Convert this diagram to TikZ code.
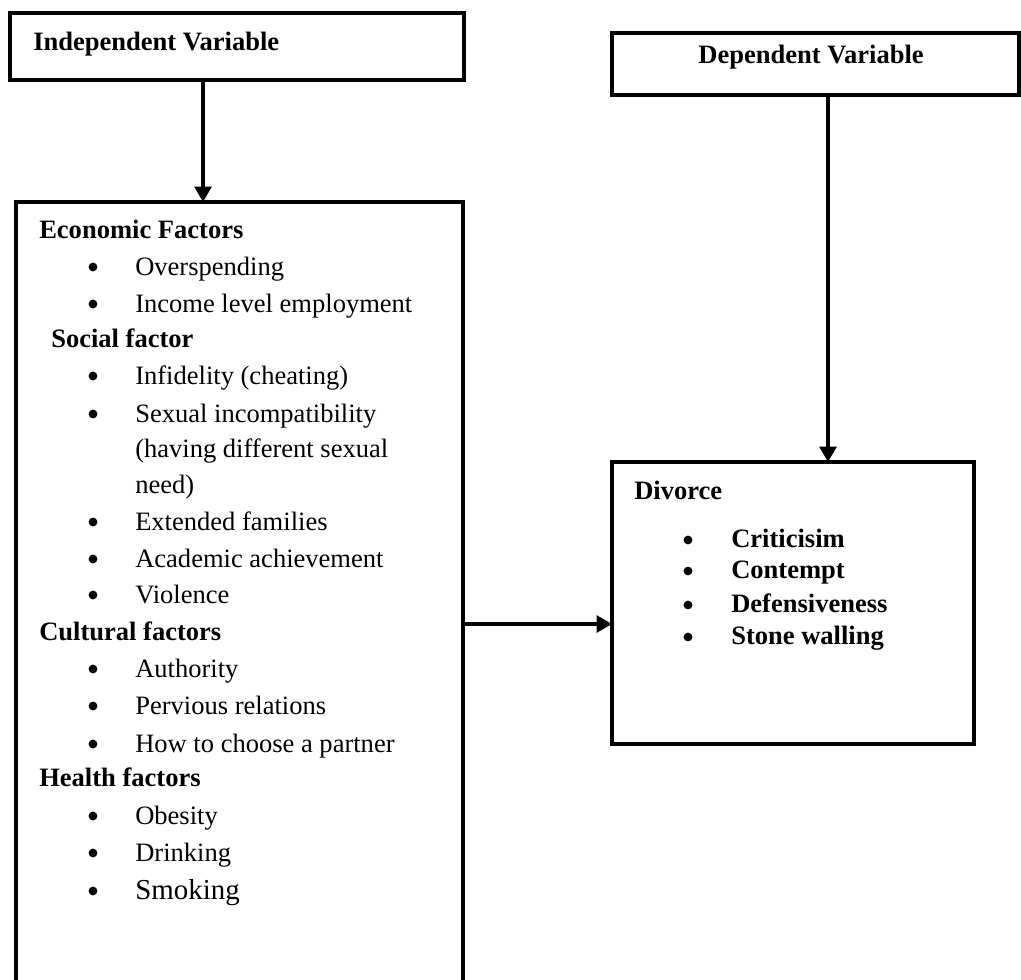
\documentclass[tikz,border=0pt]{standalone}
\usepackage{fontspec}
\setmainfont{Liberation Serif}
\usetikzlibrary{arrows.meta,fit}
\begin{document}
\begin{tikzpicture}[x=0.75pt,y=-0.75pt,
  box/.style={draw, line width=3pt, inner sep=0pt, outer sep=0pt},
  arr/.style={line width=2.7pt, -{Triangle[length=11.5pt,width=12.5pt]}},
  txt/.style={anchor=base west, inner sep=0pt, font=\fontsize{19.9}{24}\selectfont},
  btxt/.style={anchor=base west, inner sep=0pt, font=\fontsize{19.9}{24}\selectfont\bfseries},
  bul/.style={circle, fill=black, inner sep=0pt, minimum size=6.6pt}]
\useasboundingbox (0,0) rectangle (1021,979);

% boxes
\node[box, fit={(10,13)(464,80)}] (indep) {};
\node[box, fit={(612,33)(1019,95)}] (dep) {};
\node[box, fit={(16,202)(463,1010)}] (factors) {};
\node[box, fit={(612,462)(974,744)}] (divorce) {};

% connector coordinates
\coordinate (c1) at (203,0);
\coordinate (c2) at (828,0);
\coordinate (c3) at (0,624);

% connectors
\draw[arr] (c1 |- indep.south) -- (c1 |- factors.north);
\draw[arr] (c2 |- dep.south) -- (c2 |- divorce.north);
\draw[arr] (factors.east |- c3) -- (divorce.west |- c3);

% titles
\node[btxt] (indepT) at (33,50) {Independent Variable};
\node[btxt, anchor=base] (depT) at (811,63) {Dependent Variable};

% factors
\node[btxt] (eco) at (39,238) {Economic Factors};
\node[bul] (b1) at (93,267) {};
\node[txt] (t1) at (135,275) {Overspending};
\node[bul] (b2) at (93,304) {};
\node[txt] (t2) at (135,312) {Income level employment};
\node[btxt] (soc) at (51,347) {Social factor};
\node[bul] (b3) at (93,376) {};
\node[txt] (t3) at (135,384) {Infidelity (cheating)};
\node[bul] (b4) at (93,414) {};
\node[txt] (t4) at (135,422) {Sexual incompatibility};
\node[txt] (t4b) at (135,457) {(having different sexual};
\node[txt] (t4c) at (135,493) {need)};
\node[bul] (b5) at (93,522) {};
\node[txt] (t5) at (135,530) {Extended families};
\node[bul] (b6) at (93,559) {};
\node[txt] (t6) at (135,567) {Academic achievement};
\node[bul] (b7) at (93,595) {};
\node[txt] (t7) at (135,603) {Violence};
\node[btxt] (cul) at (39,640) {Cultural factors};
\node[bul] (b8) at (93,669) {};
\node[txt] (t8) at (135,677) {Authority};
\node[bul] (b9) at (93,706) {};
\node[txt] (t9) at (135,714) {Pervious relations};
\node[bul] (b10) at (93,744) {};
\node[txt] (t10) at (135,752) {How to choose a partner};
\node[btxt] (hea) at (39,786) {Health factors};
\node[bul] (b11) at (93,816) {};
\node[txt] (t11) at (135,824) {Obesity};
\node[bul] (b12) at (93,853) {};
\node[txt] (t12) at (135,861) {Drinking};
\node[bul] (b13) at (93,891) {};
\node[txt, font=\fontsize{21.7}{26}\selectfont] (t13) at (135,899) {Smoking};

% divorce
\node[btxt] (div) at (634,499) {Divorce};
\node[bul] (d1) at (688,540) {};
\node[btxt] (e1) at (731,547) {Criticisim};
\node[bul] (d2) at (688,571) {};
\node[btxt] (e2) at (731,578) {Contempt};
\node[bul] (d3) at (688,605) {};
\node[btxt] (e3) at (731,612) {Defensiveness};
\node[bul] (d4) at (688,637) {};
\node[btxt] (e4) at (731,644) {Stone walling};
\end{tikzpicture}
\end{document}
